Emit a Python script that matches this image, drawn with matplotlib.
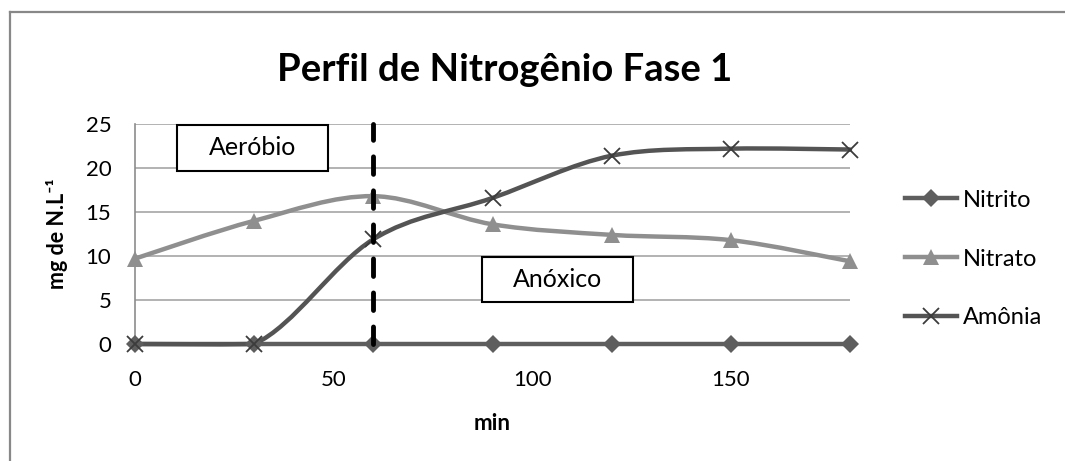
import matplotlib
matplotlib.use("Agg")
import matplotlib.pyplot as plt
from matplotlib.path import Path
from matplotlib.patches import PathPatch, Rectangle
from matplotlib.lines import Line2D
import numpy as np

plt.rcParams['font.family'] = ['Lato', 'DejaVu Sans']

minutes = [0, 30, 60, 90, 120, 150, 180]
nitrito = [0, 0, 0, 0, 0, 0, 0]
nitrato = [9.7, 14.0, 16.8, 13.6, 12.4, 11.8, 9.4]
amonia = [0, 0, 11.9, 16.6, 21.4, 22.2, 22.1]
series_names = ["Nitrito", "Nitrato", "Amônia"]
xticks = [0, 50, 100, 150]
yticks = [0, 5, 10, 15, 20, 25]

colors = ["#5e5e5e", "#8f8f8f", "#545454"]
markers = ["D", "^", "x"]
msizes = [9, 12, 12]


def smooth_path(xs, ys):
    pts = np.column_stack([xs, ys]).astype(float)
    n = len(pts)
    verts = [pts[0]]
    codes = [Path.MOVETO]
    for i in range(n - 1):
        p0 = pts[i - 1] if i > 0 else pts[i]
        p1 = pts[i]
        p2 = pts[i + 1]
        p3 = pts[i + 2] if i + 2 < n else pts[i + 1]
        c1 = p1 + (p2 - p0) / 6.0
        c2 = p2 - (p3 - p1) / 6.0
        lo, hi = min(p1[1], p2[1]), max(p1[1], p2[1])
        pad = 0.08
        c1[1] = np.clip(c1[1], lo - pad, hi + pad)
        c2[1] = np.clip(c2[1], lo - pad, hi + pad)
        verts += [c1, c2, p2]
        codes += [Path.CURVE4] * 3
    return Path(verts, codes)


W, H = 1065, 461
fig = plt.figure(figsize=(W / 100, H / 100), dpi=100)
# outer border (only left and top visible)
fig.add_artist(Line2D([10 / W, 10 / W], [0, 1 - 12 / H], transform=fig.transFigure,
                      color="#888888", linewidth=1.6))
fig.add_artist(Line2D([10 / W, 1], [1 - 12 / H, 1 - 12 / H], transform=fig.transFigure,
                      color="#888888", linewidth=1.6))

L, R, B, T = 135, 850, 344, 124
ax = fig.add_axes([L / W, 1 - B / H, (R - L) / W, (B - T) / H])
ax.set_xlim(0, 180)
ax.set_ylim(0, 25)
ax.set_xticks(xticks)
ax.set_yticks(yticks)
ax.tick_params(length=0, labelsize=16)
ax.tick_params(axis='x', pad=19)
ax.tick_params(axis='y', pad=17)
for s in ["top", "right", "bottom"]:
    ax.spines[s].set_visible(False)
ax.spines["left"].set_color("#8c8c8c")
ax.spines["left"].set_linewidth(1.2)
ax.grid(axis='y', color="#a6a6a6", linewidth=1.2)
ax.set_axisbelow(True)


def px2data(px, py):
    return ((px - L) / (R - L) * 180, (B - py) / (B - T) * 25)


data = [nitrito, nitrato, amonia]
handles = []
for ys, c, m, ms, name in zip(data, colors, markers, msizes, series_names):
    patch = PathPatch(smooth_path(minutes, ys), facecolor="none", edgecolor=c,
                      linewidth=3.2, capstyle="round", zorder=3, clip_on=False)
    ax.add_patch(patch)
    if m == "x":
        ax.plot(minutes, ys, linestyle="none", marker=m, markersize=ms, color="#3c3c3c",
                markeredgewidth=1.3, zorder=4, clip_on=False)
    else:
        ax.plot(minutes, ys, linestyle="none", marker=m, markersize=ms, color=c,
                markeredgewidth=0, zorder=4, clip_on=False)
    handles.append(Line2D([0], [0], color=c, linewidth=3.2, marker=m, markersize=ms,
                          markeredgewidth=(1.3 if m == "x" else 0),
                          markeredgecolor=("#3c3c3c" if m == "x" else c), markerfacecolor=c))

ax.plot([60, 60], [0, 25], color="black", linewidth=3.5, linestyle=(0, (3.6, 3.4)),
        dash_capstyle="round", zorder=5, clip_on=False)

# annotation boxes
for (x0, y0, x1, y1, label) in [(177, 125, 328, 171, "Aeróbio"), (482, 257, 633, 302, "Anóxico")]:
    dx0, dy1 = px2data(x0, y1)
    dx1, dy0 = px2data(x1, y0)
    ax.add_patch(Rectangle((dx0, dy1), dx1 - dx0, dy0 - dy1, facecolor="white",
                           edgecolor="black", linewidth=1.5, zorder=5.5, clip_on=False))
    cx, cy = px2data((x0 + x1) / 2, (y0 + y1) / 2)
    ax.text(cx, cy, label, fontsize=18, ha="center", va="center", zorder=6)

ax.set_xlabel("min", fontsize=16, fontweight="bold", labelpad=16)
ax.set_ylabel("mg de N.L\u207b\u00b9", fontsize=15.5, fontweight="bold", labelpad=13)

fig.suptitle("Perfil de Nitrogênio Fase 1", fontsize=27.5, fontweight="bold",
             x=505 / W, y=1 - 70 / H, va="center")

fig.legend(handles, series_names, loc="center left", bbox_to_anchor=(905 / W, 1 - 259 / H),
           frameon=False, fontsize=17, handlelength=2.2, handletextpad=0.25,
           labelspacing=1.6, borderpad=0, borderaxespad=0)

fig.savefig("out.png", dpi=100)
